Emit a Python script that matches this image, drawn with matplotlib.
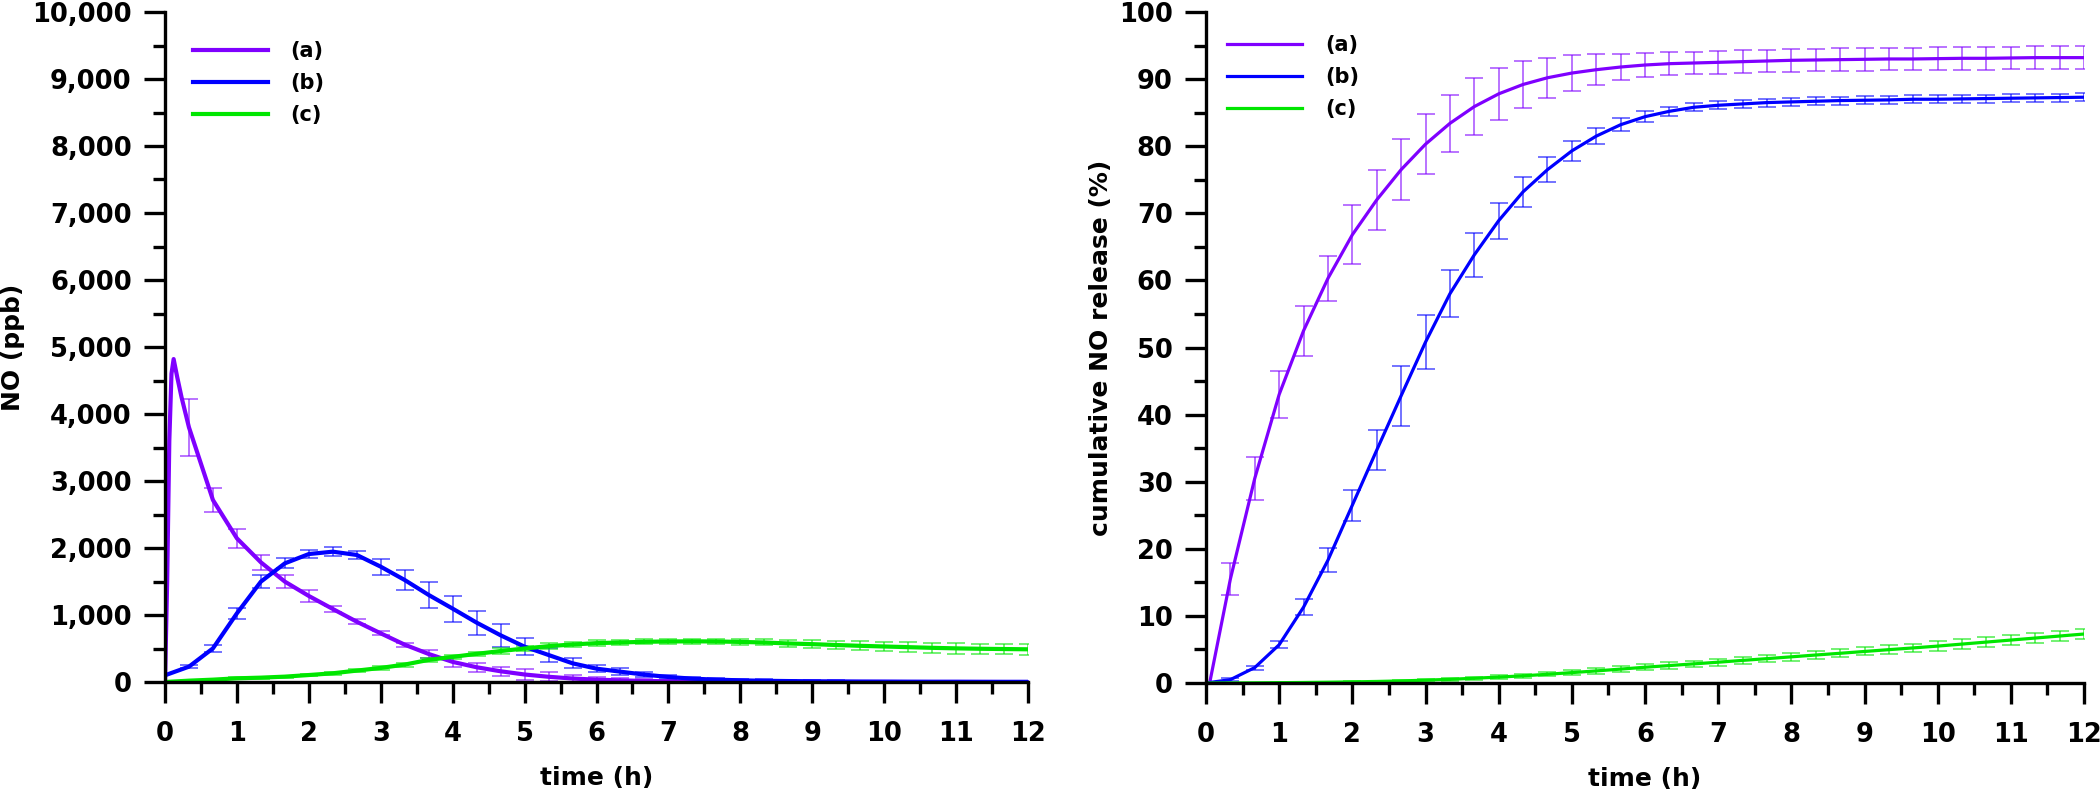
import numpy as np
import matplotlib
matplotlib.use("Agg")
from matplotlib import pyplot as plt
from matplotlib.ticker import MultipleLocator, FuncFormatter

plt.rcParams['font.family'] = ['DejaVu Sans']
plt.rcParams['font.weight'] = 'bold'

# sampling grid (h), every 20 min
hours = np.arange(37) / 3.0
labels = ['(a)', '(b)', '(c)']
colors = ['#7f00ff', '#0000ff', '#00e600']

# ---- left: NO (ppb) ----
no_a = [0, 3800, 2716, 2144, 1786, 1498, 1284, 1090, 900, 726, 557, 418, 300, 220, 160, 112,
        78, 52, 35, 24, 16, 11, 8, 6, 5, 4, 3, 3, 2, 2, 2, 1, 1, 1, 1, 0, 0]
no_a_err = [0, 420, 175, 140, 110, 100, 85, 45, 40, 30, 30, 60, 70, 70, 70, 75,
            70, 50, 40, 35, 30, 25, 20, 20, 15, 15, 15, 10, 10, 10, 10, 10, 10, 10, 10, 10, 10]
# early burst of (a) before the first sample
no_a_peak_t = [0, 0.03, 0.06, 0.09, 0.12, 0.17, 0.23]
no_a_peak = [0, 1500, 3600, 4600, 4820, 4550, 4250]

no_b = [100, 229, 502, 1025, 1498, 1771, 1910, 1945, 1896, 1721, 1522, 1299, 1095, 886, 697, 527,
        403, 279, 199, 154, 110, 75, 50, 35, 25, 18, 14, 10, 8, 6, 5, 4, 3, 3, 2, 2, 2]
no_b_err = [0, 20, 50, 85, 100, 75, 60, 70, 60, 120, 150, 200, 195, 180, 170, 130,
            100, 75, 55, 50, 40, 35, 30, 25, 20, 20, 15, 15, 15, 10, 10, 10, 10, 10, 10, 10, 10]

no_c = [0, 20, 35, 55, 65, 80, 104, 130, 170, 210, 260, 330, 375, 420, 462, 500,
        535, 560, 580, 590, 600, 605, 607, 605, 598, 590, 575, 565, 552, 540, 530, 520,
        510, 502, 496, 492, 488]
no_c_err = [0, 10, 10, 15, 15, 15, 20, 20, 25, 25, 30, 30, 35, 35, 40, 40,
            40, 40, 40, 40, 40, 40, 40, 40, 40, 45, 50, 60, 60, 65, 70, 75, 75, 80, 75, 75, 80]

# ---- right: cumulative NO release (%) ----
cum_a = [0, 15.5, 30.5, 43.0, 52.5, 60.3, 66.8, 72.0, 76.5, 80.3, 83.4, 85.9, 87.8, 89.2, 90.2, 90.9,
         91.4, 91.8, 92.1, 92.3, 92.4, 92.5, 92.6, 92.7, 92.8, 92.85, 92.9, 92.95, 93.0, 93.0, 93.05,
         93.1, 93.1, 93.15, 93.2, 93.2, 93.2]
cum_a_err = [0, 2.4, 3.2, 3.5, 3.7, 3.4, 4.4, 4.5, 4.5, 4.5, 4.3, 4.2, 3.9, 3.5, 3.0, 2.7,
             2.3, 2.0, 1.8, 1.7, 1.7, 1.7, 1.7, 1.7, 1.7, 1.7, 1.7, 1.7, 1.7, 1.7, 1.7,
             1.7, 1.7, 1.7, 1.7, 1.7, 1.7]
cum_a_start_t = [0, 0.05]
cum_a_start = [0, 0]

cum_b = [0, 0.5, 2.3, 5.7, 11.3, 18.3, 26.5, 34.7, 42.8, 50.8, 58.0, 63.8, 68.9, 73.2, 76.5, 79.3,
         81.5, 83.2, 84.4, 85.2, 85.8, 86.1, 86.3, 86.5, 86.6, 86.7, 86.8, 86.85, 86.9, 87.0, 87.0,
         87.05, 87.1, 87.15, 87.2, 87.25, 87.3]
cum_b_err = [0, 0.2, 0.3, 0.5, 1.2, 1.8, 2.3, 3.0, 4.5, 4.0, 3.5, 3.3, 2.7, 2.2, 1.9, 1.5,
             1.2, 1.0, 0.8, 0.7, 0.6, 0.6, 0.6, 0.6, 0.6, 0.6, 0.6, 0.6, 0.6, 0.6, 0.6,
             0.6, 0.6, 0.6, 0.6, 0.6, 0.6]

cum_c = [0, 0.01, 0.03, 0.05, 0.08, 0.12, 0.17, 0.23, 0.31, 0.42, 0.55, 0.71, 0.88, 1.07, 1.3, 1.55,
         1.8, 2.07, 2.35, 2.6, 2.85, 3.1, 3.37, 3.63, 3.9, 4.17, 4.43, 4.7, 4.97, 5.23, 5.5,
         5.8, 6.1, 6.4, 6.7, 7.0, 7.3]
cum_c_err = [0, 0.02, 0.03, 0.04, 0.05, 0.06, 0.08, 0.1, 0.12, 0.15, 0.18, 0.2, 0.25, 0.3, 0.3, 0.35,
             0.4, 0.4, 0.45, 0.5, 0.5, 0.5, 0.55, 0.55, 0.6, 0.6, 0.6, 0.6, 0.65, 0.65, 0.7,
             0.7, 0.7, 0.7, 0.75, 0.75, 0.75]

fig = plt.figure(figsize=(21, 7.92), dpi=100)
ax1 = fig.add_axes([165 / 2100, 110 / 792, 863 / 2100, 670 / 792])
ax2 = fig.add_axes([1206 / 2100, 109 / 792, 878 / 2100, 671 / 792])


def draw(ax, t, y, err, color, label, lw, pre_t=None, pre_y=None):
    if pre_t is None:
        pre_t, pre_y = [t[0]], [y[0]]
    tl = list(pre_t) + list(t[1:])
    yl = list(pre_y) + list(y[1:])
    ax.errorbar(t[1:], y[1:], yerr=err[1:], fmt='none', ecolor=color, alpha=0.55,
                elinewidth=1.4, capsize=6.5, capthick=1.4, zorder=2)
    ax.plot(tl, yl, color=color, lw=lw, label=label, zorder=3)


draw(ax1, hours, no_a, no_a_err, colors[0], labels[0], 3, no_a_peak_t, no_a_peak)
draw(ax1, hours, no_b, no_b_err, colors[1], labels[1], 3)
draw(ax1, hours, no_c, no_c_err, colors[2], labels[2], 3)

draw(ax2, hours, cum_a, cum_a_err, colors[0], labels[0], 2.3, cum_a_start_t, cum_a_start)
draw(ax2, hours, cum_b, cum_b_err, colors[1], labels[1], 2.3)
draw(ax2, hours, cum_c, cum_c_err, colors[2], labels[2], 2.3)

ax1.set_ylim(0, 10000)
ax1.yaxis.set_major_locator(MultipleLocator(1000))
ax1.yaxis.set_minor_locator(MultipleLocator(500))
ax1.yaxis.set_major_formatter(FuncFormatter(lambda v, p: f'{int(v):,}'))
ax2.set_ylim(0, 100)
ax2.yaxis.set_major_locator(MultipleLocator(10))
ax2.yaxis.set_minor_locator(MultipleLocator(5))

for ax in (ax1, ax2):
    ax.set_xlim(0, 12)
    ax.xaxis.set_major_locator(MultipleLocator(1))
    ax.xaxis.set_minor_locator(MultipleLocator(0.5))
    for s in ('top', 'right'):
        ax.spines[s].set_visible(False)
    for s in ('left', 'bottom'):
        ax.spines[s].set_linewidth(2.4)
        ax.spines[s].set_zorder(4)
    ax.tick_params(which='major', length=15, width=2.4, labelsize=18.5)
    ax.tick_params(which='minor', length=8.5, width=2.4)
    ax.tick_params(axis='x', which='major', pad=13)
    ax.tick_params(axis='y', which='major', pad=9)
    for lab in ax.get_xticklabels() + ax.get_yticklabels():
        lab.set_fontweight('bold')
    ax.set_xlabel('time (h)', fontsize=18, fontweight='bold', labelpad=14)

ax1.set_ylabel('NO (ppb)', fontsize=18, fontweight='bold')
ax1.yaxis.set_label_coords(-0.162, 0.5)
ax2.set_ylabel('cumulative NO release (%)', fontsize=18, fontweight='bold')
ax2.yaxis.set_label_coords(-0.106, 0.5)

leg_kw = dict(loc='upper left', frameon=False, handlelength=3.6, handletextpad=1.1,
              labelspacing=0.58, borderaxespad=0, borderpad=0,
              prop={'weight': 'bold', 'size': 15})
ax1.legend(bbox_to_anchor=(0.032, 0.957), **leg_kw)
ax2.legend(bbox_to_anchor=(0.024, 0.966), **leg_kw)

fig.savefig('out.png', dpi=100)
